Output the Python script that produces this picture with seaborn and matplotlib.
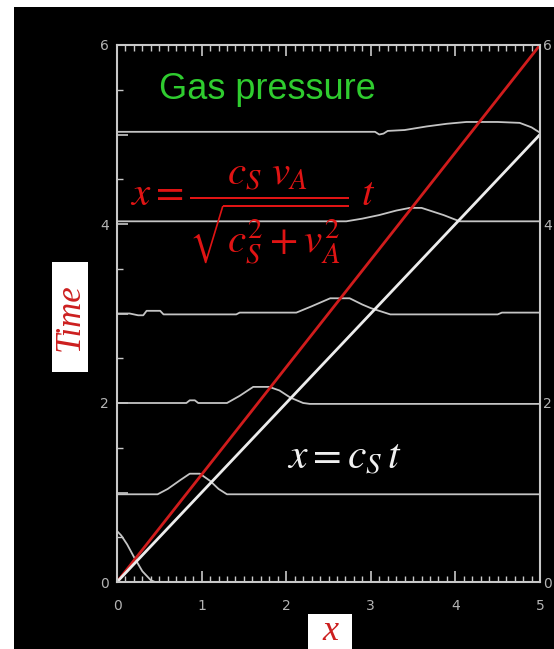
import numpy as np
import pandas as pd
import matplotlib
matplotlib.use("Agg")
import matplotlib.pyplot as plt
import seaborn as sns
from matplotlib.patches import Rectangle
from matplotlib.ticker import MultipleLocator, FuncFormatter

# ---------------- data ----------------
x_t0 = [0.0, 0.05, 0.12, 0.20, 0.30, 0.40, 0.45, 5.0]
p_t0 = [0.57, 0.52, 0.42, 0.28, 0.12, 0.02, 0.0, 0.0]

x_t1 = [0.0, 0.48, 0.60, 0.75, 0.86, 0.98, 1.10, 1.20, 1.30, 5.0]
p_t1 = [0.98, 0.98, 1.04, 1.14, 1.21, 1.21, 1.13, 1.04, 0.98, 0.98]

x_t2 = [0.0, 0.82, 0.86, 0.92, 0.96, 1.0, 1.30, 1.45, 1.61, 1.80, 1.92, 2.05, 2.20, 2.28, 5.0]
p_t2 = [2.0, 2.0, 2.03, 2.03, 2.0, 2.0, 2.0, 2.08, 2.18, 2.18, 2.14, 2.06, 2.0, 1.99, 1.99]

x_t3 = [0.0, 0.15, 0.25, 0.31, 0.35, 0.51, 0.55, 1.41, 1.45, 2.12, 2.30, 2.52, 2.75, 2.90, 3.0, 3.23, 4.50, 4.55, 5.0]
p_t3 = [3.0, 3.0, 2.98, 2.98, 3.03, 3.03, 2.99, 2.99, 3.01, 3.01, 3.08, 3.17, 3.17, 3.10, 3.06, 2.99, 2.99, 3.01, 3.01]

x_t4 = [0.0, 2.71, 2.90, 3.10, 3.30, 3.46, 3.60, 3.86, 4.05, 5.0]
p_t4 = [4.03, 4.03, 4.06, 4.10, 4.15, 4.18, 4.18, 4.10, 4.03, 4.03]

x_t5 = [0.0, 3.05, 3.10, 3.15, 3.20, 3.40, 3.66, 3.90, 4.13, 4.50, 4.76, 4.90, 5.0]
p_t5 = [5.03, 5.03, 5.0, 5.01, 5.04, 5.05, 5.09, 5.12, 5.14, 5.14, 5.13, 5.08, 5.02]

times = [0, 1, 2, 3, 4, 5]
profiles_x = [x_t0, x_t1, x_t2, x_t3, x_t4, x_t5]
profiles_p = [p_t0, p_t1, p_t2, p_t3, p_t4, p_t5]

slow_x = [0.0, 5.0]
slow_t = [0.0, 6.0]
sound_x = [0.0, 5.0]
sound_t = [0.0, 5.0]

xticks = [0, 1, 2, 3, 4, 5]
yticks_labeled = [0, 2, 4, 6]

# ---------------- figure ----------------
plt.rcParams["mathtext.fontset"] = "stix"
fig = plt.figure(figsize=(5.54, 6.49), dpi=100)
fig.patch.set_facecolor("white")
fig.add_artist(Rectangle((14 / 554, 0), 1 - 14 / 554, 1 - 7 / 649,
                         transform=fig.transFigure, facecolor="black",
                         edgecolor="none", zorder=0))

ax = fig.add_axes([117 / 554, 1 - 582 / 649, (540 - 117) / 554, (582 - 45) / 649])
ax.set_facecolor("black")

rows = []
for t, xs, ps in zip(times, profiles_x, profiles_p):
    for xv, pv in zip(xs, ps):
        rows.append({"x": xv, "p": pv, "time": t})
df = pd.DataFrame(rows)

sns.lineplot(data=df, x="x", y="p", units="time", estimator=None, sort=False,
             color="#c4c4c4", linewidth=1.3, ax=ax, legend=False)
sns.lineplot(x=slow_x, y=slow_t, color="#d01c1c", linewidth=2.0, ax=ax)
sns.lineplot(x=sound_x, y=sound_t, color="#ececec", linewidth=2.0, ax=ax)

ax.set_xlim(0, 5)
ax.set_ylim(0, 6)
ax.set_xlabel("")
ax.set_ylabel("")

ylab_fmt = FuncFormatter(
    lambda v, pos: f"{int(round(v))}" if int(round(v)) in yticks_labeled else "")

ax.xaxis.set_major_locator(MultipleLocator(1))
ax.xaxis.set_minor_locator(MultipleLocator(0.1))
ax.yaxis.set_major_locator(MultipleLocator(1))
ax.yaxis.set_minor_locator(MultipleLocator(0.5))
ax.set_xticks(xticks)
ax.yaxis.set_major_formatter(ylab_fmt)

for sp in ax.spines.values():
    sp.set_color("#c8c8c8")
    sp.set_linewidth(1.5)

ax.tick_params(which="both", direction="in", top=True, right=True,
               labelright=False, color="#c8c8c8", labelcolor="#b4b4b4",
               labelsize=10)
ax.tick_params(which="major", length=8, width=1.2)
ax.tick_params(which="minor", length=4, width=1.0)
ax.tick_params(axis="x", which="major", pad=12)
ax.tick_params(axis="y", which="major", pad=6)

# right-hand labels (mirrored), placed close to the spine
ax2 = ax.twinx()
ax2.set_ylim(0, 6)
ax2.yaxis.set_major_locator(MultipleLocator(1))
ax2.yaxis.set_major_formatter(ylab_fmt)
ax2.tick_params(axis="y", which="both", length=0, pad=2.5,
                labelcolor="#b4b4b4", labelsize=10)
for sp in ax2.spines.values():
    sp.set_visible(False)

# annotations
ax.text(0.50, 5.40, "Gas pressure", color="#2fcc2f", fontsize=26,
        family=["Liberation Sans", "DejaVu Sans"], ha="left", va="baseline")

ax.text(0.154, 4.10, r"$x = \dfrac{c_S\ v_A}{\sqrt{c_S^2 + v_A^2}}\ t$",
        color="#e01414", fontsize=29.5, ha="left", va="center")
ax.text(2.01, 1.40, r"$x = c_S\, t$", color="#f0f0f0", fontsize=30,
        ha="left", va="center")

# axis label boxes
fig.add_artist(Rectangle((52 / 554, 1 - 372 / 649), 36 / 554, 110 / 649,
                         transform=fig.transFigure, facecolor="white",
                         edgecolor="none", zorder=1))
fig.text(70 / 554, 1 - 317 / 649, "Time", rotation=90, color="#cc1f1f",
         fontsize=25, family="Liberation Serif", style="italic",
         ha="center", va="center", zorder=2)
fig.add_artist(Rectangle((308 / 554, 0), 44 / 554, 35 / 649,
                         transform=fig.transFigure, facecolor="white",
                         edgecolor="none", zorder=1))
fig.text(330 / 554, 1 - 632 / 649, "x", color="#cc1f1f",
         fontsize=26, family="Liberation Serif", style="italic",
         ha="center", va="center", zorder=2)

fig.savefig("out.png", dpi=100, facecolor=fig.get_facecolor())
